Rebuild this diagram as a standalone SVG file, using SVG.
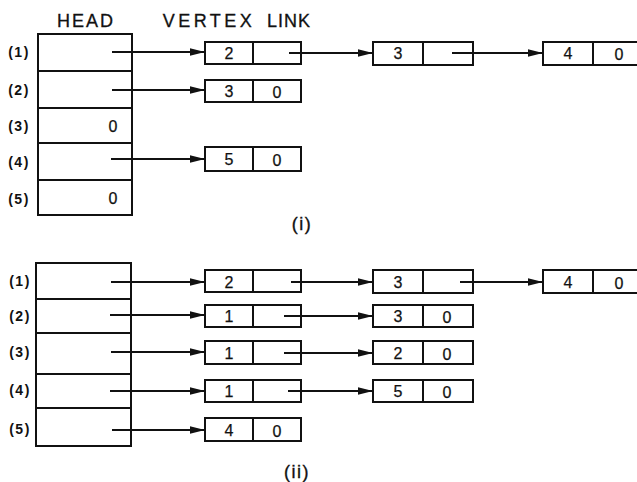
<svg xmlns="http://www.w3.org/2000/svg" width="637" height="482" viewBox="0 0 637 482">
<style>
.b{fill:none;stroke:#111;stroke-width:2}
.l{stroke:#111;stroke-width:1.8;fill:none}
.t{font-family:"Liberation Sans",Arial,sans-serif;fill:#111;text-anchor:middle;stroke:#111;stroke-width:0.25}
.d{font-size:16px}
.r{font-size:14px;font-weight:bold;letter-spacing:1.5px;stroke-width:0}
.h{font-size:18px;letter-spacing:2px;stroke-width:0.3}
.c{font-size:18px;letter-spacing:1.5px;stroke-width:0.35}
</style>
<defs>
<marker id="ah" markerUnits="userSpaceOnUse" markerWidth="15" markerHeight="9" refX="15" refY="4.5" orient="auto">
<path d="M0,0.8 L15,4.5 L0,8.2 Z" fill="#111"/>
</marker>
</defs>
<rect width="637" height="482" fill="#fff"/>
<g id="headers">
<text class="t h" x="86" y="27">HEAD</text>
<text class="t h" x="209" y="27" style="letter-spacing:3.5px">VERTEX</text>
<text class="t h" x="289" y="27" style="letter-spacing:1px">LINK</text>
</g>
<g id="head-i">
<rect class="b" x="38" y="34" width="94" height="181"/>
<path class="b" d="M38,71H132M38,108H132M38,143H132M38,180H132"/>
<text class="t r" x="19" y="57">(1)</text>
<text class="t r" x="19" y="95">(2)</text>
<text class="t r" x="19" y="131">(3)</text>
<text class="t r" x="19" y="167">(4)</text>
<text class="t r" x="19" y="204">(5)</text>
<text class="t d" x="113" y="132">0</text>
<text class="t d" x="113" y="204">0</text>
</g>
<g id="i-r1-a"><rect class="b" x="205" y="42" width="96" height="22"/><path class="b" d="M253,42V64"/><text class="t d" x="229" y="59">2</text></g>
<g id="i-r1-b"><rect class="b" x="373" y="42" width="100" height="23"/><path class="b" d="M423,42V65"/><text class="t d" x="398" y="59">3</text></g>
<g id="i-r1-c"><rect class="b" x="543" y="42" width="100" height="23"/><path class="b" d="M593,42V65"/><text class="t d" x="568" y="59">4</text><text class="t d" x="619" y="60">0</text></g>
<g id="i-r2-a"><rect class="b" x="205" y="80" width="96" height="22"/><path class="b" d="M253,80V102"/><text class="t d" x="229" y="97">3</text><text class="t d" x="277" y="98">0</text></g>
<g id="i-r4-a"><rect class="b" x="205" y="147" width="96" height="24"/><path class="b" d="M253,147V171"/><text class="t d" x="229" y="165">5</text><text class="t d" x="277" y="166">0</text></g>
<text class="t c" x="302" y="230" id="label-i">(i)</text>
<g id="head-ii">
<rect class="b" x="36" y="263" width="95" height="183"/>
<path class="b" d="M36,299H131M36,333H131M36,374H131M36,408H131"/>
<text class="t r" x="20" y="286">(1)</text>
<text class="t r" x="20" y="321">(2)</text>
<text class="t r" x="20" y="357">(3)</text>
<text class="t r" x="20" y="395">(4)</text>
<text class="t r" x="20" y="434">(5)</text>
</g>
<g id="ii-r1-a"><rect class="b" x="205" y="270" width="96" height="22"/><path class="b" d="M253,270V292"/><text class="t d" x="229" y="288">2</text></g>
<g id="ii-r1-b"><rect class="b" x="373" y="270" width="100" height="23"/><path class="b" d="M423,270V293"/><text class="t d" x="398" y="288">3</text></g>
<g id="ii-r1-c"><rect class="b" x="543" y="270" width="100" height="23"/><path class="b" d="M593,270V293"/><text class="t d" x="568" y="288">4</text><text class="t d" x="619" y="289">0</text></g>
<g id="ii-r2-a"><rect class="b" x="205" y="305" width="96" height="22"/><path class="b" d="M253,305V327"/><text class="t d" x="229" y="322">1</text></g>
<g id="ii-r2-b"><rect class="b" x="373" y="305" width="100" height="22"/><path class="b" d="M423,305V327"/><text class="t d" x="398" y="322">3</text><text class="t d" x="447" y="323">0</text></g>
<g id="ii-r3-a"><rect class="b" x="205" y="341" width="96" height="23"/><path class="b" d="M253,341V364"/><text class="t d" x="229" y="359">1</text></g>
<g id="ii-r3-b"><rect class="b" x="373" y="341" width="100" height="23"/><path class="b" d="M423,341V364"/><text class="t d" x="398" y="359">2</text><text class="t d" x="447" y="360">0</text></g>
<g id="ii-r4-a"><rect class="b" x="205" y="380" width="96" height="22"/><path class="b" d="M253,380V402"/><text class="t d" x="229" y="397">1</text></g>
<g id="ii-r4-b"><rect class="b" x="373" y="380" width="100" height="22"/><path class="b" d="M423,380V402"/><text class="t d" x="398" y="397">5</text><text class="t d" x="447" y="398">0</text></g>
<g id="ii-r5-a"><rect class="b" x="205" y="418" width="96" height="23"/><path class="b" d="M253,418V441"/><text class="t d" x="229" y="436">4</text><text class="t d" x="277" y="437">0</text></g>
<text class="t c" x="297" y="478" id="label-ii">(ii)</text>
<g id="connectors">
<path class="l" marker-end="url(#ah)" d="M112,52H205"/>
<path class="l" marker-end="url(#ah)" d="M112,90H205"/>
<path class="l" marker-end="url(#ah)" d="M111,159H205"/>
<path class="l" marker-end="url(#ah)" d="M289,53H373"/>
<path class="l" marker-end="url(#ah)" d="M452,53H543"/>
<path class="l" marker-end="url(#ah)" d="M111,282H205"/>
<path class="l" marker-end="url(#ah)" d="M110,315H205"/>
<path class="l" marker-end="url(#ah)" d="M111,352H205"/>
<path class="l" marker-end="url(#ah)" d="M110,391H205"/>
<path class="l" marker-end="url(#ah)" d="M112,430H205"/>
<path class="l" marker-end="url(#ah)" d="M291,282H373"/>
<path class="l" marker-end="url(#ah)" d="M284,316H373"/>
<path class="l" marker-end="url(#ah)" d="M284,353H373"/>
<path class="l" marker-end="url(#ah)" d="M288,391H373"/>
<path class="l" marker-end="url(#ah)" d="M460,282H543"/>
</g>
</svg>
